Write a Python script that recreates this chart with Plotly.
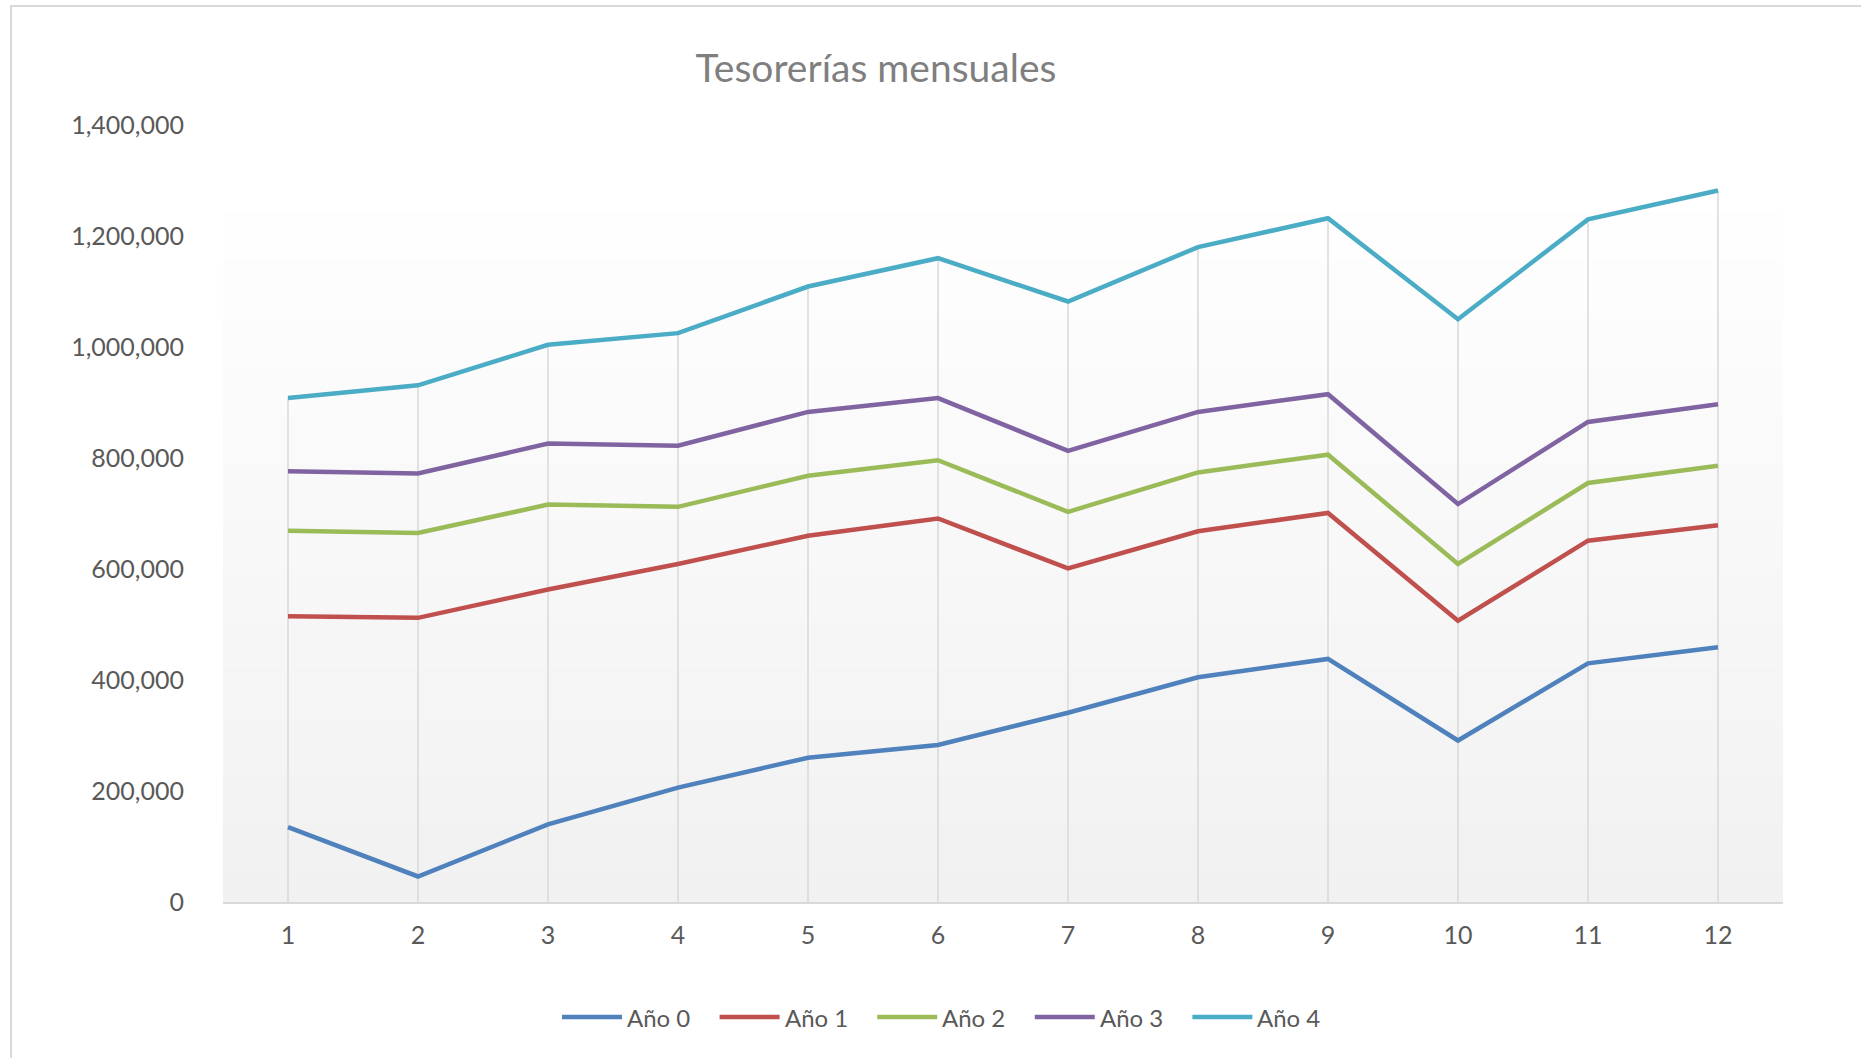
import plotly.graph_objects as go

# Monthly treasury balances per year
months = [1, 2, 3, 4, 5, 6, 7, 8, 9, 10, 11, 12]
series_names = ["Año 0", "Año 1", "Año 2", "Año 3", "Año 4"]
ano0 = [135000, 46000, 140000, 206000, 260000, 283000, 341000, 405000, 438000, 291000, 430000, 459000]
ano1 = [515000, 512000, 563000, 609000, 660000, 691000, 601000, 668000, 701000, 507000, 651000, 679000]
ano2 = [669000, 665000, 716000, 712000, 768000, 796000, 703000, 774000, 806000, 609000, 755000, 786000]
ano3 = [776000, 772000, 826000, 822000, 883000, 908000, 813000, 883000, 915000, 717000, 865000, 897000]
ano4 = [908000, 931000, 1004000, 1025000, 1109000, 1160000, 1082000, 1180000, 1232000, 1050000, 1230000, 1282000]
series_values = [ano0, ano1, ano2, ano3, ano4]
colors = ["#4F81BD", "#C0504D", "#9BBB59", "#8064A2", "#4BACC6"]
y_ticks = [0, 200000, 400000, 600000, 800000, 1000000, 1200000, 1400000]

W, H = 1861, 1058
L, R, T, B = 223, 1783, 125, 902
FONT = "Lato"


def px_x(p):
    return (p - L) / (R - L)


def px_y(p):
    return (B - p) / (B - T)


fig = go.Figure()

# drop lines from the highest value of each month down to the axis
drop_x, drop_y = [], []
for i, m in enumerate(months):
    top = max(vals[i] for vals in series_values)
    drop_x += [m, m, None]
    drop_y += [0, top, None]
fig.add_trace(go.Scatter(x=drop_x, y=drop_y, mode="lines",
                         line=dict(color="#d9d9d9", width=1.5),
                         hoverinfo="skip", showlegend=False))

for name, vals, c in zip(series_names, series_values, colors):
    fig.add_trace(go.Scatter(x=months, y=vals, mode="lines", name=name,
                             line=dict(color=c, width=4.5),
                             showlegend=False))

shapes = []
# vertical gradient for the plot area: white on top, light grey at the bottom
n_bands = 80
top_rgb = (255, 255, 255)
bot_rgb = (241, 241, 241)
for k in range(n_bands):
    t = (k + 0.5) / n_bands
    t = max(0.0, (t - 0.08) / 0.92)
    r, g, b = [round(a + (bb - a) * t) for a, bb in zip(top_rgb, bot_rgb)]
    shapes.append(dict(type="rect", xref="x domain", yref="y domain",
                       x0=0, x1=1, y0=1 - (k + 1) / n_bands, y1=1 - k / n_bands + 0.001,
                       fillcolor=f"rgb({r},{g},{b})", line=dict(width=0), layer="below"))

# chart border
shapes.append(dict(type="rect", xref="paper", yref="paper",
                   x0=px_x(11), x1=px_x(W + 40), y0=px_y(H + 40), y1=px_y(6),
                   line=dict(color="#d9d9d9", width=2), fillcolor="rgba(0,0,0,0)"))

# legend drawn as line samples with labels
annotations = []
leg_y = px_y(1017)
for i, (name, c) in enumerate(zip(series_names, colors)):
    x0 = 562 + i * 157.6
    shapes.append(dict(type="line", xref="paper", yref="paper",
                       x0=px_x(x0), x1=px_x(x0 + 60), y0=leg_y, y1=leg_y,
                       line=dict(color=c, width=4.5)))
    annotations.append(dict(text=name, xref="paper", yref="paper",
                            x=px_x(x0 + 63), y=leg_y, xanchor="left", yanchor="middle",
                            showarrow=False, font=dict(family=FONT, size=24, color="#595959")))

fig.update_layout(
    width=W, height=H,
    margin=dict(l=L, r=W - R, t=T, b=H - B),
    paper_bgcolor="white", plot_bgcolor="white",
    title=dict(text="Tesorerías mensuales", x=876 / W, xref="container", xanchor="center",
               y=1 - 68 / H, yref="container", yanchor="middle",
               font=dict(family=FONT, size=39, color="#7f7f7f")),
    shapes=shapes, annotations=annotations,
    showlegend=False,
    font=dict(family=FONT, size=25, color="#595959"),
)

fig.update_xaxes(range=[0.5, 12.5], tickvals=months, ticktext=[str(m) for m in months],
                 showgrid=False, zeroline=False, showline=True, linecolor="#d9d9d9", linewidth=2,
                 ticks="", ticklabelstandoff=10,
                 tickfont=dict(family=FONT, size=25, color="#595959"))
fig.update_yaxes(range=[0, 1400000], tickvals=y_ticks, tickformat=",d",
                 showgrid=False, zeroline=False, showline=False, ticks="",
                 ticklabelstandoff=38,
                 tickfont=dict(family=FONT, size=25, color="#595959"))

fig.write_html("out.html")
